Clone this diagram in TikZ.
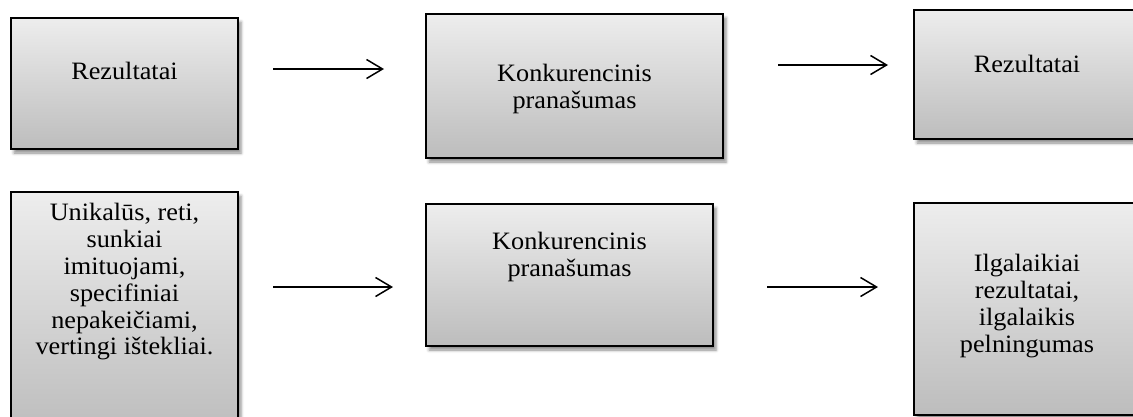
\documentclass[tikz,border=0pt]{standalone}
\usepackage{fontspec}
\setmainfont{Liberation Serif}[FakeStretch=1.05]
\usetikzlibrary{shadows.blur,arrows.meta}
\begin{document}
\begin{tikzpicture}[x=1pt,y=-1pt,
  box/.style={draw=black, line width=1.6pt, inner sep=0pt, outer sep=0pt,
    top color=gray!14, bottom color=gray!52,
    blur shadow={shadow xshift=3pt, shadow yshift=-4pt,
      shadow blur radius=3pt, shadow opacity=45}},
  txt/.style={align=center, font=\fontsize{25}{26.8}\selectfont, inner sep=0pt},
  arr/.style={line width=1.5pt, -{Straight Barb[length=16pt, width=19pt, line width=1.5pt]}}]
  \useasboundingbox (0,0) rectangle (1133,416);
  \clip (0,0) rectangle (1133,416);

  % top row
  \node[box, minimum width=227pt, minimum height=131pt] (b1) at (124.5,83.5) {};
  \node[box, minimum width=297pt, minimum height=144pt] (b2) at (574.5,86) {};
  \node[box, minimum width=226pt, minimum height=129pt] (b3) at (1027,74.5) {};
  % bottom row
  \node[box, minimum width=227pt, minimum height=240pt] (b4) at (124.5,312) {};
  \node[box, minimum width=287pt, minimum height=142pt] (b5) at (569.5,275) {};
  \node[box, minimum width=226pt, minimum height=212pt] (b6) at (1027,309) {};

  % texts
  \node[txt] (t1) at (124.5,71) {Rezultatai};
  \node[txt] (t2) at (574.5,89) {Konkurencinis\\pranašumas};
  \node[txt] (t3) at (1027,64) {Rezultatai};
  \node[txt] (t4) at (124.5,282) {Unikalūs, reti,\\sunkiai\\imituojami,\\specifiniai\\nepakeičiami,\\vertingi ištekliai.};
  \node[txt] (t5) at (569.5,257) {Konkurencinis\\pranašumas};
  \node[txt] (t6) at (1027,306) {Ilgalaikiai\\rezultatai,\\ilgalaikis\\pelningumas};

  % arrows
  \coordinate (a1s) at (273,69);  \coordinate (a1e) at (384,69);
  \coordinate (a2s) at (778,65);  \coordinate (a2e) at (888,65);
  \coordinate (a3s) at (273,287); \coordinate (a3e) at (393,287);
  \coordinate (a4s) at (767,287); \coordinate (a4e) at (878,287);
  \draw[arr] (a1s) -- (a1e);
  \draw[arr] (a2s) -- (a2e);
  \draw[arr] (a3s) -- (a3e);
  \draw[arr] (a4s) -- (a4e);
\end{tikzpicture}
\end{document}
